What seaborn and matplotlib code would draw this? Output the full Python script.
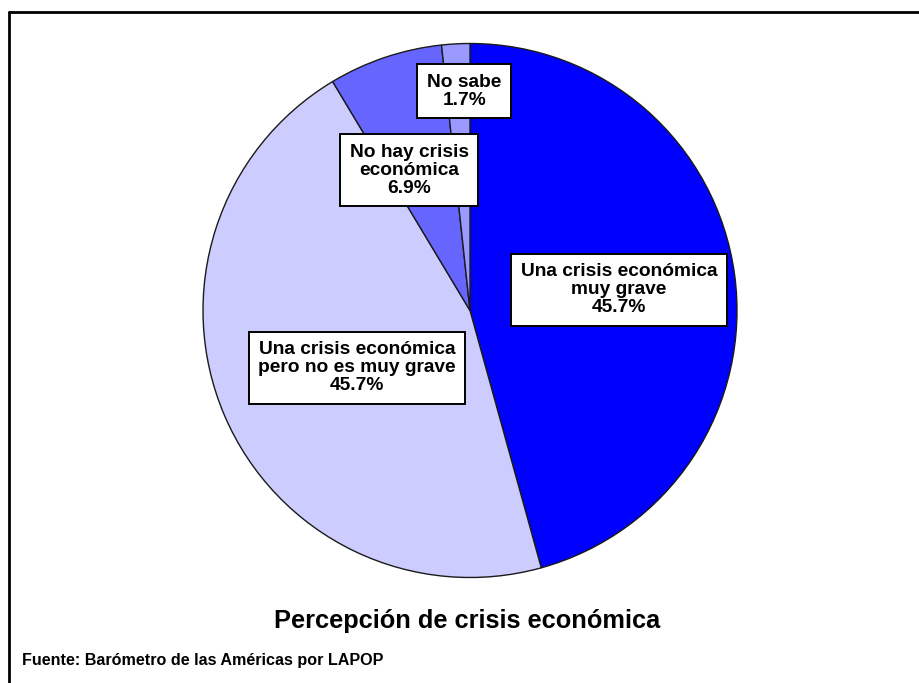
import numpy as np
import matplotlib
matplotlib.use("Agg")
import matplotlib.pyplot as plt
from matplotlib.lines import Line2D
import seaborn as sns

# Survey answers and their shares (%)
categories = [
    "Una crisis económica\nmuy grave",
    "Una crisis económica\npero no es muy grave",
    "No hay crisis\neconómica",
    "No sabe",
]
shares = [45.7, 45.7, 6.9, 1.7]
colors = ["#0000FF", "#CCCCFF", "#6666FF", "#9999FF"]
title = "Percepción de crisis económica"
source = "Fuente: Barómetro de las Américas por LAPOP"

sns.set_theme(style="white")
plt.rcParams["font.family"] = ["Liberation Sans", "DejaVu Sans"]
plt.rcParams["font.weight"] = "bold"
plt.rcParams["text.color"] = "black"

W, H = 919, 683
fig = plt.figure(figsize=(W / 100, H / 100), dpi=100)
fig.patch.set_facecolor("white")

# Pie axes: centre (470, 310.5) px, radius 267 px
cx, cy, r = 470, 310.5, 267
ax = fig.add_axes([(cx - r) / W, (H - cy - r) / H, 2 * r / W, 2 * r / H])
wedges, _ = ax.pie(
    shares,
    colors=colors,
    startangle=90,
    counterclock=False,
    radius=1.0,
    wedgeprops=dict(edgecolor="#1a1a1a", linewidth=1.0),
)
ax.set_xlim(-1, 1)
ax.set_ylim(-1, 1)
ax.set_aspect("equal")
ax.axis("off")

# Label positions inside the pie (pie-radius units)
label_pos = [(0.558, 0.077), (-0.423, -0.215), (-0.228, 0.526), (-0.022, 0.822)]
for name, val, (lx, ly) in zip(categories, shares, label_pos):
    ax.text(
        lx, ly, f"{name}\n{val:.1f}%",
        ha="center", va="center", fontsize=13.8, fontweight="bold",
        linespacing=1.08, color="black",
        bbox=dict(boxstyle="square,pad=0.5", facecolor="white",
                  edgecolor="black", linewidth=1.4),
        zorder=5,
    )

fig.text(467 / W, 1 - 621 / H, title, ha="center", va="center",
         fontsize=18.3, fontweight="bold", color="black")
fig.text(22 / W, 1 - 660 / H, source, ha="left", va="center",
         fontsize=11.6, fontweight="bold", color="black")

# Frame lines along the top and left edges
fig.add_artist(Line2D([9 / W, 1.0], [1 - 12 / H, 1 - 12 / H],
                      transform=fig.transFigure, color="black", linewidth=2.0))
fig.add_artist(Line2D([9 / W, 9 / W], [0.0, 1 - 12 / H],
                      transform=fig.transFigure, color="black", linewidth=2.0))

fig.savefig("out.png", dpi=100)
